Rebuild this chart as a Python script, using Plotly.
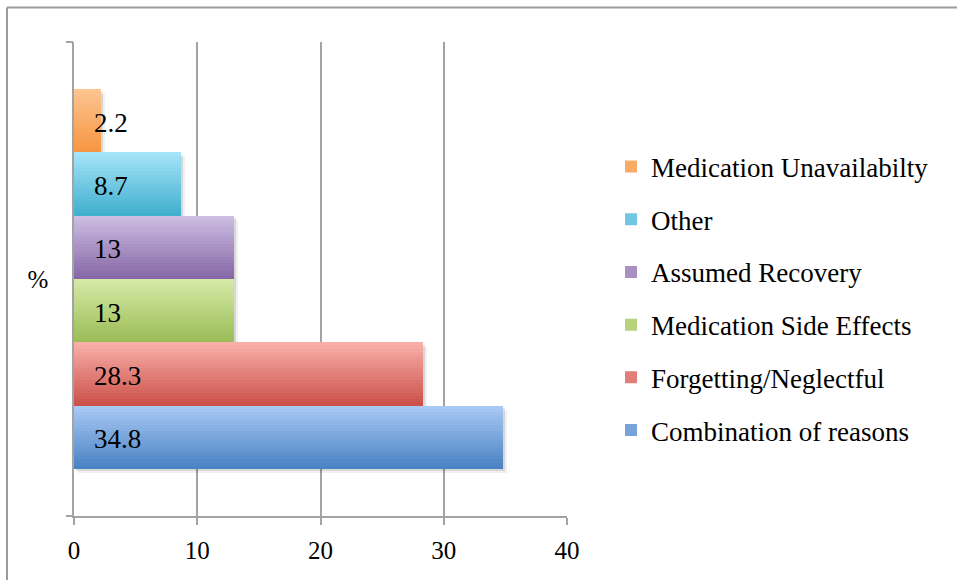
import plotly.graph_objects as go
import numpy as np

# Reasons for non-adherence, percent of respondents
reasons = [
    "Combination of reasons",
    "Forgetting/Neglectful",
    "Medication Side Effects",
    "Assumed Recovery",
    "Other",
    "Medication Unavailabilty",
]
percent = [34.8, 28.3, 13, 13, 8.7, 2.2]
value_labels = ["34.8", "28.3", "13", "13", "8.7", "2.2"]
category_label = "%"
x_ticks = [0, 10, 20, 30, 40]

# light (top) and dark (bottom) ends of each bar's vertical gradient
top_colors = ["#ABCAF6", "#F9B1AB", "#D6EBA8", "#CEBFE4", "#A8E4F9", "#FDC592"]
bottom_colors = ["#4781C2", "#CB4F49", "#9ABB55", "#8565A5", "#3EAECD", "#F79540"]

FONT = "Liberation Serif"
GRID = "#A3A3A3"
FRAME = "#9C9C9C"
N_SLICES = 20

W, H = 957, 580
ML, MR, MT, MB = 74, 390, 42, 64
PW, PH = W - ML - MR, H - MT - MB


def hex_rgb(h):
    h = h.lstrip("#")
    return np.array([int(h[i:i + 2], 16) for i in (0, 2, 4)], dtype=float)


def blend(c_top, c_bot, t):
    c = hex_rgb(c_top) * (1 - t) + hex_rgb(c_bot) * t
    return "rgb(%d,%d,%d)" % tuple(np.round(c))


fig = go.Figure()
n = len(percent)
rows = list(range(n))

# soft drop shadow under the bars (two offset layers)
for dy, dx, alpha in [(0.07, 0.30, 0.06), (0.04, 0.17, 0.10)]:
    fig.add_trace(go.Bar(
        x=percent,
        y=[r - dy for r in rows],
        base=dx,
        width=1.0,
        orientation="h",
        marker=dict(color="rgba(0,0,0,%.2f)" % alpha, line=dict(width=0)),
        showlegend=False,
        hoverinfo="skip",
    ))

for i, (name, val) in enumerate(zip(reasons, percent)):
    # split each bar into thin horizontal strips to shade it top-to-bottom
    k = np.arange(N_SLICES)
    order = np.r_[k[N_SLICES // 2:], k[:N_SLICES // 2]]  # mid strip first -> legend swatch
    ys = i + 0.5 - (order + 0.5) / N_SLICES
    cols = [blend(top_colors[i], bottom_colors[i], (o + 0.5) / N_SLICES) for o in order]
    fig.add_trace(go.Bar(
        x=[val] * N_SLICES,
        y=ys,
        width=1.0 / N_SLICES,
        orientation="h",
        name=name,
        legendgroup=name,
        legendrank=n - i,
        marker=dict(color=cols, line=dict(width=0)),
        hoverinfo="skip",
    ))

# companion axis carrying the tick marks at both ends of the category band
fig.add_trace(go.Scatter(x=[None], y=[None], yaxis="y2", showlegend=False))

# value labels near the base of each bar
annotations = [
    dict(x=1.5, y=r, xref="x", yref="y", text=lab, showarrow=False,
         xanchor="left", yanchor="middle", yshift=-2,
         font=dict(family=FONT, size=27, color="#000000"))
    for r, lab in zip(rows, value_labels)
]

yr = [-1.245, n - 1 + 1.245]

fig.update_layout(
    width=W,
    height=H,
    margin=dict(l=ML, r=MR, t=MT, b=MB),
    paper_bgcolor="white",
    plot_bgcolor="white",
    barmode="overlay",
    bargap=0,
    font=dict(family=FONT, size=25, color="#000000"),
    annotations=annotations,
    xaxis=dict(
        range=[0, 40],
        tickvals=x_ticks,
        showgrid=True,
        gridcolor=GRID,
        gridwidth=1.5,
        showline=True,
        linecolor=GRID,
        linewidth=1.5,
        ticks="outside",
        ticklen=7,
        tickwidth=1.5,
        tickcolor=GRID,
        zeroline=False,
        ticklabelstandoff=4,
        tickfont=dict(family=FONT, size=25),
        fixedrange=True,
    ),
    yaxis=dict(
        range=yr,
        tickvals=[(yr[0] + yr[1]) / 2],
        ticktext=[category_label],
        ticks="",
        showgrid=False,
        showline=True,
        linecolor=GRID,
        linewidth=1.5,
        zeroline=False,
        ticklabelstandoff=19,
        tickfont=dict(family=FONT, size=25),
    ),
    yaxis2=dict(
        range=yr,
        overlaying="y",
        side="left",
        tickvals=yr,
        ticktext=["", ""],
        ticks="outside",
        ticklen=7,
        tickwidth=1.5,
        tickcolor=GRID,
        showgrid=False,
        showline=False,
        zeroline=False,
    ),
    legend=dict(
        x=(611 - ML) / PW,
        xanchor="left",
        y=(H - MB - 298.5) / PH,
        yanchor="middle",
        traceorder="grouped",
        tracegroupgap=14.6,
        font=dict(family=FONT, size=27),
        bgcolor="rgba(0,0,0,0)",
    ),
)

# outer frame: top and left edges
fx = (7 - ML) / PW
fy = (H - MB - 7.5) / PH
fig.add_shape(type="line", xref="paper", yref="paper", x0=fx, x1=2, y0=fy, y1=fy,
              line=dict(color=FRAME, width=2))
fig.add_shape(type="line", xref="paper", yref="paper", x0=fx, x1=fx, y0=-1, y1=fy,
              line=dict(color=FRAME, width=2))

fig.write_html("out.html")
